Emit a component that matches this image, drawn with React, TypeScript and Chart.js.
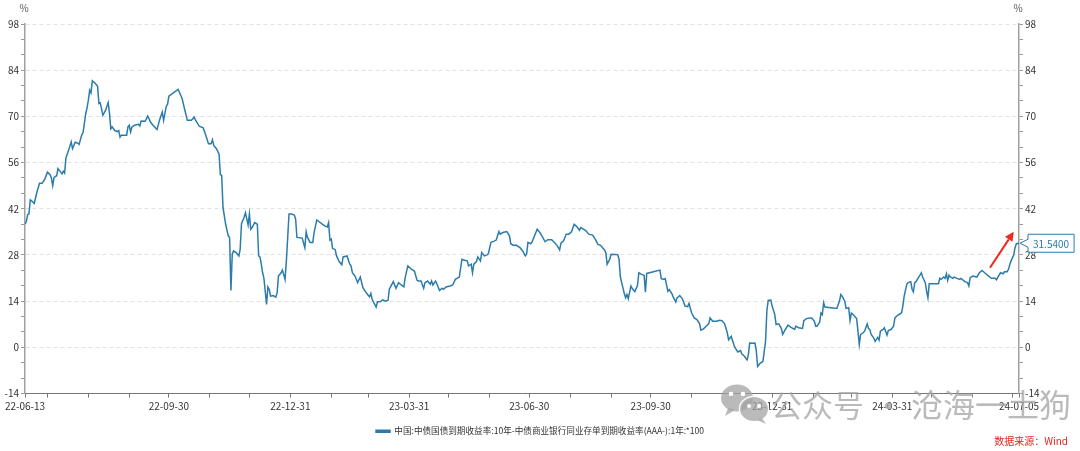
import React, { useEffect, useRef } from 'react';
import { Chart, registerables } from 'chart.js';

Chart.register(...registerables);

// ---------------- data ----------------
const START_DATE = '2022-06-13';
const END_DATE = '2024-07-05';

// calendar-day offsets from START_DATE of each observation
const dayOffsets = [
  0, 1, 2, 3, 4, 5, 7, 9, 11, 13,
  15, 17, 19, 20, 21, 22, 24, 25, 27, 28,
  29, 30, 31, 33, 35, 36, 38, 40, 41, 43,
  44, 46, 47, 48, 49, 50, 51, 53, 55, 56,
  57, 59, 61, 63, 64, 65, 66, 68, 70, 71,
  72, 73, 77, 78, 79, 80, 81, 83, 86, 87,
  88, 91, 93, 95, 97, 100, 102, 104, 105, 107,
  108, 109, 116, 119, 121, 123, 126, 127, 128, 129,
  130, 132, 135, 137, 139, 141, 142, 143, 145, 147,
  148, 149, 150, 152, 154, 155, 156, 157, 158, 160,
  162, 163, 164, 166, 167, 169, 170, 171, 172, 174,
  176, 177, 178, 179, 180, 181, 183, 184, 185, 186,
  188, 190, 191, 192, 194, 195, 197, 198, 200, 202,
  204, 205, 206, 210, 212, 213, 214, 216, 218, 219,
  221, 227, 229, 230, 231, 232, 233, 235, 236,
  238, 240, 241, 244, 246, 247, 248, 250, 252, 254,
  256, 258, 260, 261, 262, 263, 266, 267, 269, 271,
  273, 275, 276, 279, 281, 283, 285, 287, 288, 290,
  293, 295, 297, 298, 300, 302, 303, 305, 307, 308,
  309, 311, 313, 314, 316, 317, 319, 322, 324, 326,
  329, 331, 333, 335, 336, 338, 339, 340, 342, 343,
  345, 346, 348, 350, 351, 353, 355, 357, 359, 360,
  362, 365, 367, 368, 370, 372, 375, 377, 379, 380,
  381, 383, 384, 386, 388, 390, 392, 394, 396, 399,
  401, 403, 405, 406, 408, 410, 412, 414, 416, 418,
  420, 421, 423, 425, 427, 430, 432, 434, 436, 439,
  440, 441, 443, 444, 449, 450, 451, 452, 454, 455,
  456, 457, 459, 460, 462, 464, 465, 467, 469, 470,
  471, 481, 482, 484, 485, 487, 488, 490, 491,
  493, 494, 496, 498, 500, 502, 503, 505, 507, 509,
  511, 512, 514, 516, 518, 519, 521, 524, 526, 528,
  530, 532, 533, 535, 537, 538, 540, 542, 543, 545,
  547, 548, 549, 551, 553, 554, 555, 557, 559, 561,
  562, 563, 565, 566, 568, 569, 571, 573, 574, 576,
  578, 580, 583, 584, 586, 589, 590, 592, 595, 596,
  598, 599, 600, 602, 603, 604, 605, 606, 615,
  617, 618, 619, 621, 622, 624, 625, 626, 627, 630,
  631, 632, 633, 635, 636, 638, 639, 640, 641, 643,
  644, 646, 647, 648, 650, 651, 653, 654, 656, 658,
  659, 661, 664, 665, 666, 668, 669, 671, 672, 673,
  674, 675, 677, 678, 679, 680, 682, 683, 684, 685,
  692, 693, 694, 696, 697, 698, 699, 700, 701,
  703, 704, 706, 708, 709, 712, 714, 715, 716, 718,
  721, 723, 725, 727, 730, 732, 735, 736, 737, 739,
  741, 742, 744, 745, 746, 747, 749, 750, 751, 753,
];

// 10Y CGB yield minus 1Y AAA- NCD yield, in bp (*100)
const spreadValues = [
  37.3, 38.1, 40.2, 40.4, 44.7, 44.4, 43.6, 47, 49.7, 49.7,
  51, 53.1, 52.3, 51.3, 49, 51.5, 52, 54.2, 53.1, 52.6,
  53.4, 52.8, 57.4, 59.7, 62.3, 60.2, 62.2, 61.9, 61.5, 64.4,
  65.1, 70.8, 72.6, 74.9, 77.9, 77.1, 80.8, 80.1, 79.1, 73.9,
  74.1, 70.4, 71.8, 74.2, 71, 66.2, 66.8, 65.7, 65.4, 65.7,
  63.7, 64.3, 64.3, 66.8, 67.3, 65.3, 66.8, 67.3, 67.6, 67.1,
  68.6, 68.5, 70.1, 68.3, 67.3, 66, 69, 71.3, 68.8, 73,
  73.7, 76.1, 78.2, 75.4, 72, 68.8, 68.8, 69.2, 69.8, 69,
  68.3, 67, 66.5, 64.2, 61.7, 61.7, 62.9, 61.2, 60.2, 58.6,
  52.3, 52.1, 42.4, 37.3, 33.8, 33.3, 17.2, 28.2, 29.2, 28.7,
  27.7, 29.7, 37.5, 39.4, 40.8, 37.1, 40.4, 35.8, 36.3, 37.8,
  37.3, 27.7, 27.4, 25.2, 22.6, 20.9, 13, 18.3, 17.6, 15.5,
  15.7, 15.2, 16.5, 21.6, 22.6, 23.4, 20.6, 26.2, 40.4, 40.4,
  40.1, 38.9, 33.3, 33.1, 30.2, 35, 33.3, 31.8, 31.8, 34.8,
  38.6, 36.8, 36.5, 37.8, 32.5, 32.8, 30, 29.6, 27.7,
  26, 25, 27.4, 27.7, 25.2, 24.7, 22.6, 21.6, 19.6, 21.3,
  18.1, 16.8, 15.8, 15.3, 16.3, 14.5, 12.2, 13.8, 13.8, 14.4,
  14, 14.2, 17.6, 19.9, 17.9, 19.6, 18.9, 18.3, 21.1, 24.7,
  23.6, 23.1, 20.3, 20.1, 20.1, 17.9, 19.6, 20.1, 19.1, 20.1,
  18.9, 20.1, 18.3, 17.2, 17.9, 17.6, 18.3, 18.6, 18.9, 20.6,
  21.3, 26.7, 26.4, 26.2, 24.7, 25.2, 22.6, 25.2, 26, 27.4,
  26.2, 28.7, 27.7, 28, 28.4, 31.8, 32.1, 32.5, 35.1, 34.3,
  34.8, 35.1, 33.8, 31.4, 30.9, 31, 30.2, 29.2, 27.7, 28.2,
  31.8, 31.4, 31.8, 33.8, 35.8, 34.8, 33.5, 32, 32.6, 32.6,
  31.8, 30.9, 29.5, 31.6, 32.3, 34.3, 34.3, 35, 37.3, 36.6,
  35.5, 36.3, 35.8, 35.3, 34.3, 34, 32.8, 31.2, 30.9, 29.5,
  28.7, 25.2, 26.7, 28.2, 28.1, 26.7, 21.4, 19.6, 16.3, 15,
  16, 14.7, 18.6, 17.8, 16.9, 18.8, 22.6, 22.1, 21.8, 16.7,
  22.4, 23.4, 20.8, 20.6, 20.8, 17, 17.5, 16.3, 15.3,
  13.7, 15, 15.7, 14.7, 12.5, 12.3, 13.3, 10.4, 8.9, 8.4,
  7.2, 5.2, 5.6, 6.4, 7.2, 8.9, 7.9, 7.9, 8.2, 8.1,
  7.1, 4.4, 2.3, 3.3, 0.8, -0.2, -1.4, -1, -2, -2.7,
  -3.8, -2.2, 1.3, 1.2, 1.3, -1.1, -5.8, -4.8, -4.3, 1.8,
  11, 14.2, 14.3, 12.5, 9.9, 6.9, 7.1, 5.7, 3.9, 5.4,
  6.7, 6.1, 5.4, 6.4, 5.9, 5.7, 8.1, 8.7, 8.9, 8.9,
  7.9, 6.4, 6.4, 7.7, 10.4, 9.9, 13.5, 12.2, 11.8,
  14, 16, 15.5, 14, 11.8, 12, 8.1, 10.4, 10.1, 8.7,
  4.9, 0.8, 3.9, 4.4, 4.9, 7.1, 5.7, 5.4, 3.9, 2.8,
  1.8, 3, 2.2, 4.9, 5.4, 5.9, 3.7, 5.1, 5.4, 6.4,
  8.9, 9.7, 10.4, 12.5, 15.5, 19.1, 19.6, 19.9, 17.6, 16.8,
  19.6, 19.9, 21.3, 21.9, 22.6, 21.3, 19.6, 17, 15, 19.3,
  19.3, 20.9, 20.6, 21.3, 20.9, 22.3, 20.3, 21.9, 21.3,
  20.9, 21.3, 20.9, 20.6, 20.9, 19.9, 19.6, 18.6, 21.1, 21.6,
  21.3, 22.6, 23.3, 22.6, 21.6, 20.9, 20.9, 20.5, 21.3, 22.6,
  22.3, 22.9, 22.9, 23.6, 25, 26.2, 28, 30.2, 31.4, 31.54,
];

const xTickLabels = ['22-06-13', '22-09-30', '22-12-31', '23-03-31', '23-06-30', '23-09-30', '23-12-31', '24-03-31', '24-07-05'];
const yTickLabels = [-14, 0, 14, 28, 42, 56, 70, 84, 98];
const seriesName = '中国:中债国债到期收益率:10年-中债商业银行同业存单到期收益率(AAA-):1年:*100';
const unitLabel = '%';
const lastValueText = '31.5400';
const sourceText = '数据来源：Wind';
const watermarkLeft = '公众号';
const watermarkDot = '·';
const watermarkRight = '沧海一土狗';
// annotation arrow (in data units: day offset, value)
const arrowFrom = { day: 731, value: 24.1 };
const arrowTo = { day: 749, value: 35 };

// ---------------- helpers ----------------
const FONT = '"Noto Sans CJK SC", "Noto Sans", sans-serif';
const LINE_COLOR = '#2b7cab';
const DAY_MS = 86400000;
const isoToMs = (s: string) => {
  const [y, m, d] = s.split('-').map(Number);
  return Date.UTC(y, m - 1, d);
};
const startMs = isoToMs(START_DATE);
const endDay = Math.round((isoToMs(END_DATE) - startMs) / DAY_MS);
const shortToDay = (s: string) => {
  const [yy, mm, dd] = s.split('-').map(Number);
  return Math.round((Date.UTC(2000 + yy, mm - 1, dd) - startMs) / DAY_MS);
};

const monthEndDays: number[] = [];
{
  const s = new Date(startMs);
  let y = s.getUTCFullYear();
  let m = s.getUTCMonth();
  for (;;) {
    const d = Math.round((Date.UTC(y, m + 1, 0) - startMs) / DAY_MS);
    if (d > endDay) break;
    if (d >= 0) monthEndDays.push(d);
    m++;
    if (m > 11) { m = 0; y++; }
  }
}
const labelByDay = new Map<number, string>(xTickLabels.map((l) => [shortToDay(l), l]));
const xTickDays = Array.from(new Set([0, ...monthEndDays, endDay])).sort((a, b) => a - b);

const yMin = yTickLabels[0];
const yMax = yTickLabels[yTickLabels.length - 1];
const yStep = yTickLabels[1] - yTickLabels[0];
const yAllTicks: number[] = [];
for (let k = 0; k <= ((yMax - yMin) / yStep) * 3; k++) yAllTicks.push(yMin + (k * yStep) / 3);
const isMajor = (v: number) => Math.abs((v - yMin) / yStep - Math.round((v - yMin) / yStep)) < 1e-6;

const overlayPlugin = {
  id: 'overlay',
  afterDraw(chart: any) {
    const { ctx, chartArea, scales } = chart;
    const xs = scales.x;
    const ys = scales.y;
    ctx.save();

    // unit labels
    ctx.font = `10px ${FONT}`;
    ctx.fillStyle = '#555';
    ctx.textAlign = 'center';
    ctx.textBaseline = 'middle';
    ctx.fillText(unitLabel, chartArea.left - 1, chartArea.top - 16);
    ctx.fillText(unitLabel, chartArea.right - 1, chartArea.top - 16);

    // last value callout
    const lastI = spreadValues.length - 1;
    const px = xs.getPixelForValue(dayOffsets[lastI]);
    const py = ys.getPixelForValue(spreadValues[lastI]);
    ctx.font = `10px ${FONT}`;
    const tw = ctx.measureText(lastValueText).width;
    const bx = px + 9;
    const bw = tw + 10;
    const bh = 18;
    const by = py - bh / 2;
    ctx.beginPath();
    ctx.moveTo(bx, by);
    ctx.lineTo(bx + bw, by);
    ctx.lineTo(bx + bw, by + bh);
    ctx.lineTo(bx, by + bh);
    ctx.lineTo(bx, py + 4);
    ctx.lineTo(px + 1, py);
    ctx.lineTo(bx, py - 4);
    ctx.closePath();
    ctx.fillStyle = '#ffffff';
    ctx.fill();
    ctx.strokeStyle = LINE_COLOR;
    ctx.lineWidth = 1;
    ctx.stroke();
    ctx.fillStyle = LINE_COLOR;
    ctx.textAlign = 'center';
    ctx.fillText(lastValueText, bx + bw / 2, py + 0.5);

    // red arrow
    const ax1 = xs.getPixelForValue(arrowFrom.day);
    const ay1 = ys.getPixelForValue(arrowFrom.value);
    const ax2 = xs.getPixelForValue(arrowTo.day);
    const ay2 = ys.getPixelForValue(arrowTo.value);
    const ang = Math.atan2(ay2 - ay1, ax2 - ax1);
    const headL = 9;
    const headW = 4.5;
    const hx = ax2 - headL * Math.cos(ang);
    const hy = ay2 - headL * Math.sin(ang);
    ctx.strokeStyle = '#f0281e';
    ctx.fillStyle = '#f0281e';
    ctx.lineWidth = 2;
    ctx.beginPath();
    ctx.moveTo(ax1, ay1);
    ctx.lineTo(hx, hy);
    ctx.stroke();
    ctx.beginPath();
    ctx.moveTo(ax2, ay2);
    ctx.lineTo(hx + headW * Math.sin(ang), hy - headW * Math.cos(ang));
    ctx.lineTo(hx - headW * Math.sin(ang), hy + headW * Math.cos(ang));
    ctx.closePath();
    ctx.fill();

    // source note
    ctx.font = `10px ${FONT}`;
    ctx.fillStyle = '#e8231c';
    ctx.textAlign = 'right';
    ctx.fillText(sourceText, 1068, 441);

    // watermark
    ctx.globalAlpha = 0.75;
    const g = '#a3a3a3';
    ctx.fillStyle = g;
    ctx.beginPath();
    ctx.ellipse(737, 398, 16, 13.5, 0, 0, Math.PI * 2);
    ctx.fill();
    ctx.beginPath();
    ctx.moveTo(728, 408);
    ctx.lineTo(725, 416);
    ctx.lineTo(735, 410);
    ctx.fill();
    ctx.globalAlpha = 1;
    ctx.strokeStyle = '#ffffff';
    ctx.lineWidth = 2.5;
    ctx.beginPath();
    ctx.ellipse(754, 409, 14, 12, 0, 0, Math.PI * 2);
    ctx.stroke();
    ctx.globalAlpha = 0.75;
    ctx.fillStyle = g;
    ctx.fill();
    ctx.beginPath();
    ctx.moveTo(762, 418);
    ctx.lineTo(766, 424);
    ctx.lineTo(757, 420);
    ctx.fill();
    ctx.globalAlpha = 1;
    ctx.fillStyle = '#ffffff';
    for (const [ex, ey, r] of [[731, 394, 2.3], [743, 394, 2.3], [749, 406, 2], [759, 406, 2]]) {
      ctx.beginPath();
      ctx.arc(ex, ey, r, 0, Math.PI * 2);
      ctx.fill();
    }
    ctx.globalAlpha = 0.75;
    ctx.fillStyle = g;
    ctx.textBaseline = 'middle';
    ctx.textAlign = 'left';
    ctx.font = `31px ${FONT}`;
    ctx.fillText(watermarkLeft, 771, 405);
    ctx.textAlign = 'center';
    ctx.fillText(watermarkDot, 888, 405);
    ctx.textAlign = 'left';
    ctx.font = `32px ${FONT}`;
    ctx.fillText(watermarkRight, 911, 405);

    ctx.restore();
  },
};

export default function App() {
  const canvasRef = useRef<HTMLCanvasElement | null>(null);

  useEffect(() => {
    const canvas = canvasRef.current;
    if (!canvas) return;
    const tickFont = { size: 10, family: FONT };
    const chart = new Chart(canvas, {
      type: 'line',
      data: {
        datasets: [
          {
            label: seriesName,
            data: dayOffsets.map((d, i) => ({ x: d, y: spreadValues[i] })),
            borderColor: LINE_COLOR,
            backgroundColor: LINE_COLOR,
            borderWidth: 1.5,
            pointRadius: 0,
            tension: 0,
            yAxisID: 'y',
          },
        ],
      },
      options: {
        animation: false,
        responsive: false,
        events: [],
        layout: { padding: { top: 24, left: 0, right: 0, bottom: 5.5 } },
        plugins: {
          tooltip: { enabled: false },
          legend: {
            position: 'bottom',
            labels: {
              boxWidth: 14,
              boxHeight: 2,
              padding: 10,
              color: '#333',
              font: { size: 8.6, family: FONT },
            },
          },
        },
        scales: {
          x: {
            type: 'linear',
            min: 0,
            max: endDay,
            afterBuildTicks: (scale: any) => {
              scale.ticks = xTickDays.map((v) => ({ value: v }));
            },
            afterFit: (scale: any) => {
              scale.height = 23.4;
            },
            ticks: {
              autoSkip: false,
              maxRotation: 0,
              minRotation: 0,
              padding: 3,
              color: '#333',
              font: tickFont,
              callback: (v: any) => labelByDay.get(Number(v)) ?? '',
            },
            grid: {
              drawOnChartArea: false,
              drawTicks: true,
              tickLength: 4,
              tickColor: '#777',
              tickWidth: 1,
            },
            border: { color: '#777', width: 1 },
          },
          y: {
            position: 'left',
            min: yMin,
            max: yMax,
            afterBuildTicks: (scale: any) => {
              scale.ticks = yAllTicks.map((v) => ({ value: v }));
            },
            afterFit: (scale: any) => {
              scale.width = 25;
            },
            ticks: {
              autoSkip: false,
              padding: 2,
              color: '#333',
              font: tickFont,
              callback: (v: any) => (isMajor(Number(v)) ? String(Math.round(Number(v))) : ''),
            },
            grid: {
              drawTicks: true,
              tickLength: 4,
              tickColor: '#999',
              tickWidth: 1,
              lineWidth: 1,
              color: (c: any) => (c.tick && isMajor(c.tick.value) ? '#e2e2e2' : 'rgba(0,0,0,0)'),
            },
            border: { color: '#a0a0a0', width: 1.5, dash: [4, 3] },
          },
          y2: {
            position: 'right',
            min: yMin,
            max: yMax,
            afterBuildTicks: (scale: any) => {
              scale.ticks = yAllTicks.map((v) => ({ value: v }));
            },
            afterFit: (scale: any) => {
              scale.width = 61;
            },
            ticks: {
              autoSkip: false,
              padding: 2,
              color: '#333',
              font: tickFont,
              callback: (v: any) => (isMajor(Number(v)) ? String(Math.round(Number(v))) : ''),
            },
            grid: {
              drawOnChartArea: false,
              drawTicks: true,
              tickLength: 4,
              tickColor: '#999',
              tickWidth: 1,
            },
            border: { color: '#a0a0a0', width: 1.5 },
          },
        },
      },
      plugins: [overlayPlugin],
    } as any);
    return () => chart.destroy();
  }, []);

  return (
    <div style={{ position: 'fixed', left: 0, top: 0, width: 1080, height: 451, background: '#ffffff' }}>
      <canvas ref={canvasRef} width={1080} height={451} style={{ display: 'block', width: 1080, height: 451 }} />
    </div>
  );
}
